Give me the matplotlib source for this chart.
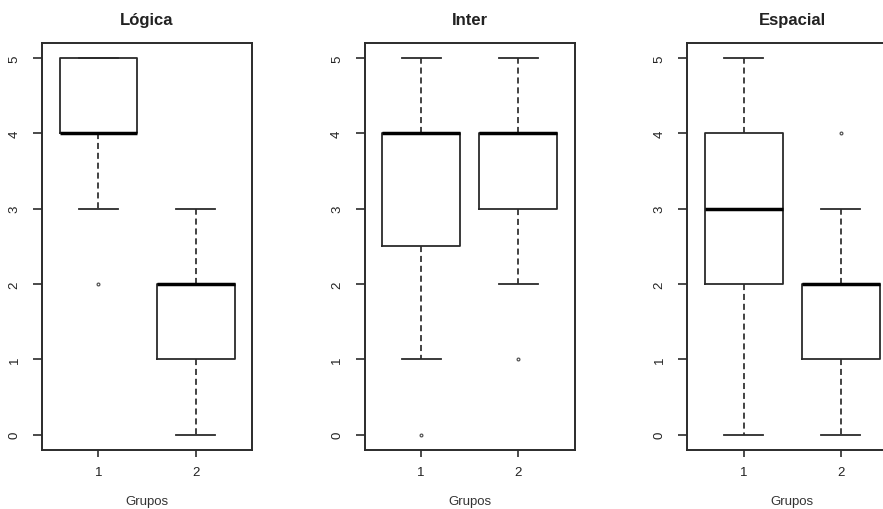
import matplotlib
matplotlib.use("Agg")
import matplotlib.pyplot as plt

plt.rcParams['font.family'] = ['Liberation Sans', 'DejaVu Sans']

# Five-number summaries per panel: [group 1, group 2]
titles = ["Lógica", "Inter", "Espacial"]
groups = ["1", "2"]

whislo = [[3, 0], [1, 2], [0, 0]]
q1 = [[4, 1], [2.5, 3], [2, 1]]
med = [[4, 2], [4, 4], [3, 2]]
q3 = [[5, 2], [4, 4], [4, 2]]
whishi = [[5, 3], [5, 5], [5, 3]]
fliers = [[[2], []], [[0], [1]], [[], [4]]]

yticks = [0, 1, 2, 3, 4, 5]

W, H = 883, 510
fig = plt.figure(figsize=(W / 100, H / 100), dpi=100)

ink = "#2b2b2b"
lefts = [42, 364.7, 687.3]
ax_w, ax_bottom, ax_top = 210, 450.7, 44

for p, title in enumerate(titles):
    ax = fig.add_axes([lefts[p] / W, (H - ax_bottom) / H,
                       ax_w / W, (ax_bottom - ax_top) / H])
    stats = []
    for g in range(2):
        stats.append(dict(whislo=whislo[p][g], q1=q1[p][g], med=med[p][g],
                          q3=q3[p][g], whishi=whishi[p][g],
                          fliers=fliers[p][g], label=groups[g]))
    ax.bxp(stats, positions=[1, 2], widths=0.8, capwidths=0.4,
           boxprops=dict(color=ink, linewidth=1.3),
           medianprops=dict(color="black", linewidth=2.5, solid_capstyle="butt"),
           whiskerprops=dict(color=ink, linewidth=1.25, linestyle=(0, (3.5, 2.2))),
           capprops=dict(color=ink, linewidth=1.3),
           flierprops=dict(marker="o", markersize=2.0, markerfacecolor="none",
                           markeredgecolor="#555555", markeredgewidth=0.9))
    ax.set_xlim(0.42, 2.58)
    ax.set_ylim(-0.2, 5.2)
    ax.set_yticks(yticks)
    ax.set_yticklabels([str(t) for t in yticks], rotation=90, va="center")
    ax.tick_params(axis="y", direction="out", length=6.5, width=1.2,
                   color=ink, pad=9, labelsize=9.5, labelcolor="#222222")
    ax.tick_params(axis="x", direction="out", length=5, width=1.2,
                   color=ink, pad=7, labelsize=9.5, labelcolor="#222222")
    for s in ax.spines.values():
        s.set_linewidth(1.4)
        s.set_color(ink)
    ax.set_title(title, fontsize=12, fontweight="bold", color="#222222", pad=14)
    ax.set_xlabel("Grupos", fontsize=9.5, color="#333333", labelpad=12)

fig.savefig("out.png", dpi=100)
